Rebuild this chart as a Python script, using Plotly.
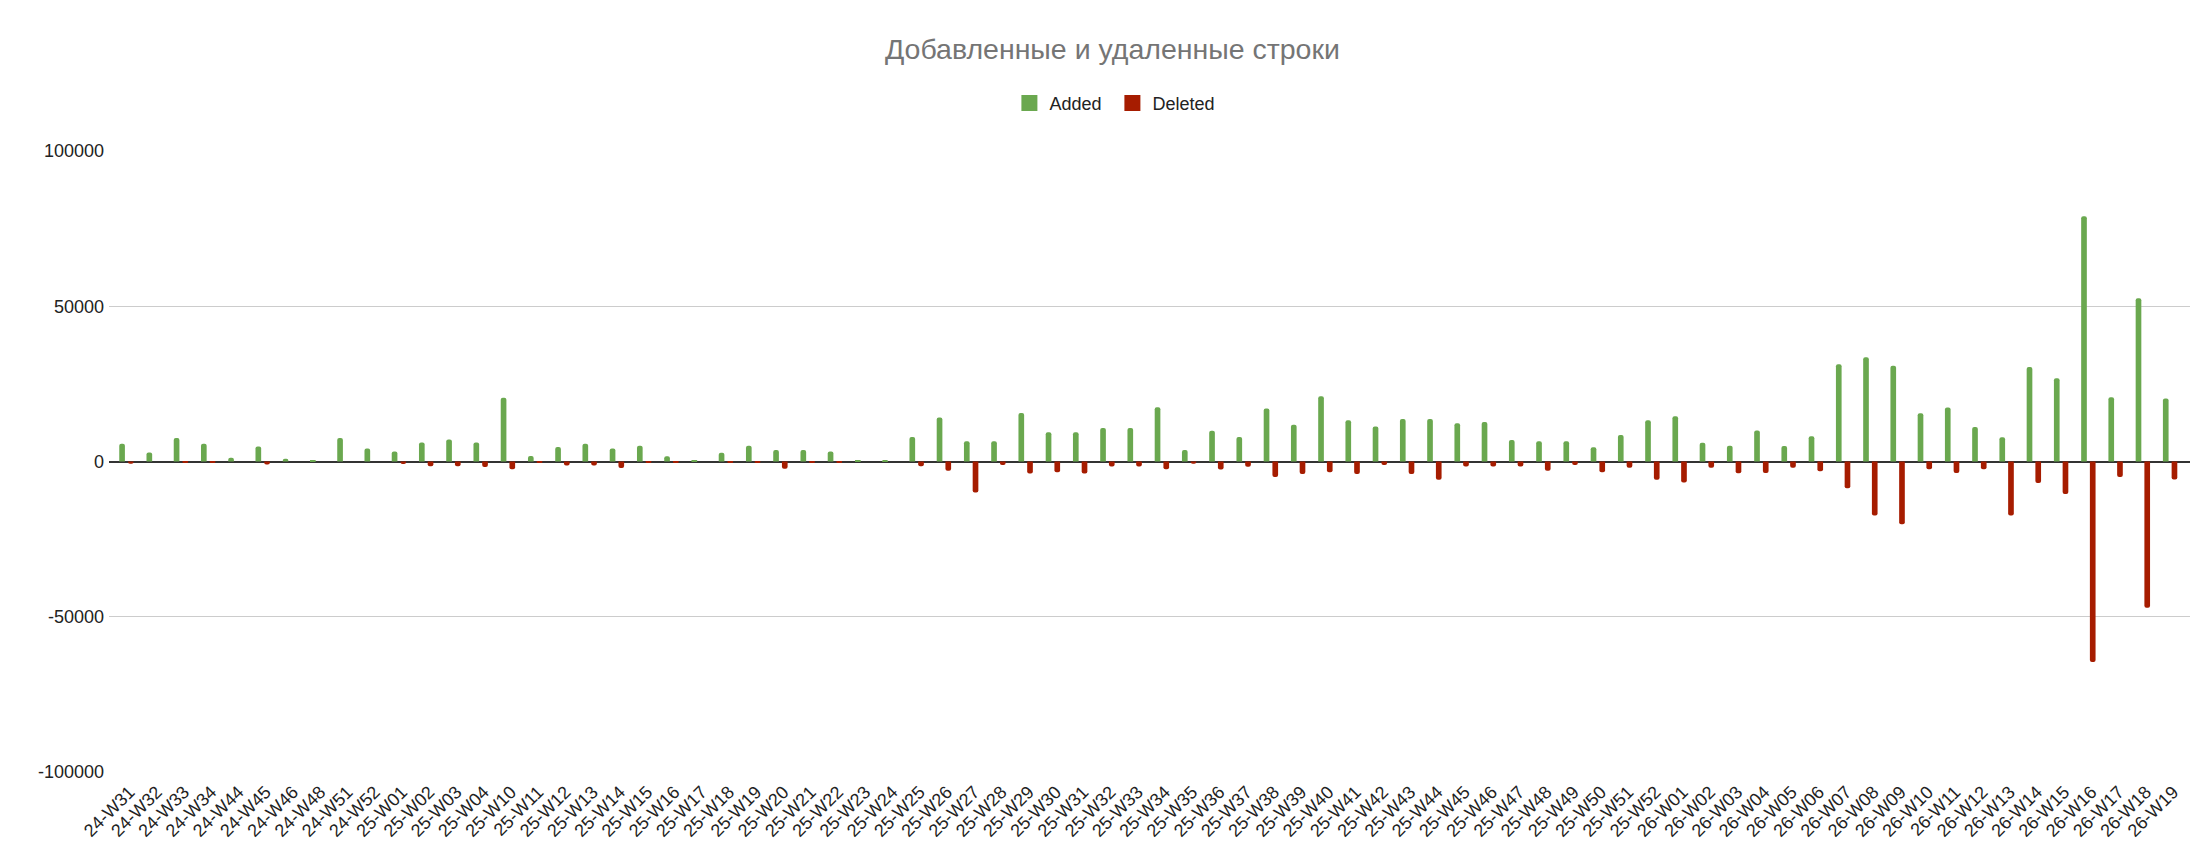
import plotly.graph_objs as go

# weekly buckets
weeks = [
    "24-W31", "24-W32", "24-W33", "24-W34", "24-W44", "24-W45", "24-W46", "24-W48", "24-W51", "24-W52",
    "25-W01", "25-W02", "25-W03", "25-W04",
    "25-W10", "25-W11", "25-W12", "25-W13", "25-W14", "25-W15", "25-W16", "25-W17", "25-W18", "25-W19",
    "25-W20", "25-W21", "25-W22", "25-W23", "25-W24", "25-W25", "25-W26", "25-W27", "25-W28", "25-W29",
    "25-W30", "25-W31", "25-W32", "25-W33", "25-W34", "25-W35", "25-W36", "25-W37", "25-W38", "25-W39",
    "25-W40", "25-W41", "25-W42", "25-W43", "25-W44", "25-W45", "25-W46", "25-W47", "25-W48", "25-W49",
    "25-W50", "25-W51", "25-W52",
    "26-W01", "26-W02", "26-W03", "26-W04", "26-W05", "26-W06", "26-W07", "26-W08", "26-W09", "26-W10",
    "26-W11", "26-W12", "26-W13", "26-W14", "26-W15", "26-W16", "26-W17", "26-W18", "26-W19",
]

added = [
    5700, 2900, 7600, 5700, 1200, 4800, 900, 200, 7600, 4200,
    3200, 6100, 7100, 6100,
    20500, 1800, 4700, 5700, 4200, 5100, 1700, 200, 2800, 5100,
    3700, 3700, 3200, 200, 500, 7900, 14200, 6500, 6500, 15600,
    9400, 9400, 10800, 10800, 17500, 3700, 9900, 7900, 17100, 11800,
    21000, 13300, 11300, 13700, 13700, 12300, 12700, 6900, 6500, 6500,
    4600, 8500, 13300,
    14600, 6000, 5100, 10000, 5000, 8100, 31300, 33600, 30800, 15500,
    17400, 11100, 7800, 30400, 26800, 79000, 20700, 52600, 20300,
]

deleted = [
    -700, 0, -400, -400, 0, -1000, 0, 0, 0, 0,
    -800, -1500, -1500, -1800,
    -2500, -500, -1300, -1300, -2100, -500, -500, 0, -500, -500,
    -2300, -500, -500, 0, 0, -1500, -3000, -10000, -1100, -3900,
    -3500, -3900, -1600, -1600, -2500, -700, -2600, -1700, -5000, -4000,
    -3500, -4000, -1100, -4000, -5900, -1600, -1600, -1600, -3000, -1100,
    -3500, -2000, -5900,
    -6800, -2000, -3800, -3700, -2000, -3100, -8600, -17400, -20200, -2500,
    -3700, -2500, -17400, -6900, -10500, -64600, -5000, -47100, -5800,
]

y_ticks = [-100000, -50000, 0, 50000, 100000]
y_tick_labels = ["-100000", "-50000", "0", "50000", "100000"]

FONT = "Liberation Sans, Arial, sans-serif"
GREEN = "#6aa84f"
RED = "#a61c00"

fig = go.Figure()

# bars (legend handled by the square markers below)
fig.add_trace(go.Bar(x=weeks, y=added, name="Added", showlegend=False,
                     marker=dict(color=GREEN, cornerradius="50%", line_width=0)))
fig.add_trace(go.Bar(x=weeks, y=deleted, name="Deleted", showlegend=False,
                     marker=dict(color=RED, cornerradius="50%", line_width=0)))

# legend entries
fig.add_trace(go.Scatter(x=[None], y=[None], mode="markers", name="Added",
                         marker=dict(symbol="square", size=16, color=GREEN)))
fig.add_trace(go.Scatter(x=[None], y=[None], mode="markers", name="Deleted",
                         marker=dict(symbol="square", size=16, color=RED)))

fig.update_layout(
    width=2200, height=858,
    paper_bgcolor="white", plot_bgcolor="white",
    font=dict(family=FONT, size=18, color="#222222"),
    barmode="group", bargap=0.36, bargroupgap=0.35,
    margin=dict(l=101, r=18, t=143, b=94),
    title=dict(text="Добавленные и удаленные строки",
               font=dict(family=FONT, size=28.5, color="#757575"),
               x=0.502, xref="container", xanchor="center",
               y=0.952, yref="container", yanchor="middle"),
    legend=dict(orientation="h", x=0.502, xref="container", xanchor="center",
                y=0.889, yref="container", yanchor="middle",
                font=dict(size=18, color="#222222"), entrywidth=58,
                itemsizing="trace", traceorder="normal"),
    showlegend=True,
)

fig.update_xaxes(range=[-0.64, len(weeks) - 0.27],
                 showgrid=False, showline=False, ticks="", tickangle=-45,
                 automargin=False, ticklabelshift=3, ticklabelstandoff=5,
                 tickfont=dict(size=18, color="#222222"))

fig.update_yaxes(range=[-100000, 100000], tickvals=y_ticks, ticktext=y_tick_labels,
                 showgrid=True, gridcolor="#cccccc", gridwidth=1,
                 zeroline=True, zerolinecolor="#333333", zerolinewidth=1.5,
                 showline=False, ticks="", automargin=False, ticklabelstandoff=4,
                 tickfont=dict(size=18, color="#222222"))

fig.write_html("out.html")
